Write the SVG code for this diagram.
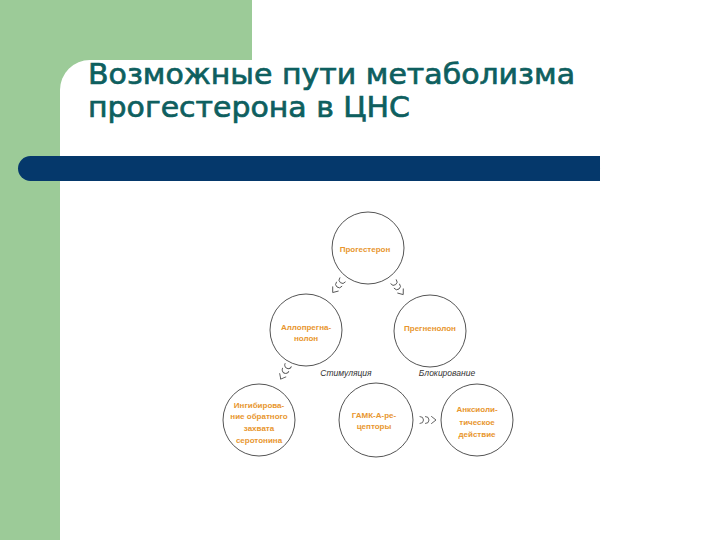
<svg xmlns="http://www.w3.org/2000/svg" width="720" height="540" viewBox="0 0 720 540">
<defs>
<style>
.node circle{fill:#ffffff;stroke:#555555;stroke-width:1}
.nt{font-family:"Liberation Sans",Arial,sans-serif;font-size:8px;font-weight:bold;fill:#E8962E;text-anchor:middle}
.lbl{font-family:"Liberation Sans",Arial,sans-serif;font-size:8.5px;font-style:italic;fill:#333333;text-anchor:middle}
.arr{fill:none;stroke:#555555;stroke-width:0.9;stroke-linecap:round;stroke-linejoin:round}
.title{font-family:"Comic Sans MS","DejaVu Sans",sans-serif;font-size:29px;fill:#0E5F5F;stroke:#0E5F5F;stroke-width:0.7}
</style>
<g id="flow">
<path d="M-9,-3.5 A3.5,3.5 0 1 1 -9,3.5 M-3.5,-3.5 A3.5,3.5 0 1 1 -3.5,3.5 M2.5,-3.5 L7,0 L2.5,3.5"/>
</g>
</defs>
<rect width="720" height="540" fill="#ffffff"/>
<g id="background">
<rect x="0" y="0" width="252" height="100" fill="#9CCB98"/>
<rect x="0" y="0" width="60" height="540" fill="#9CCB98"/>
<rect x="60" y="60" width="700" height="520" rx="30" ry="30" fill="#ffffff"/>
<rect x="18" y="156" width="582" height="25" rx="12.5" ry="12.5" fill="#05386B"/>
<rect x="560" y="156" width="40" height="25" fill="#05386B"/>
</g>
<g id="title">
<text class="title" x="88" y="84" textLength="487" lengthAdjust="spacingAndGlyphs">Возможные пути метаболизма</text>
<text class="title" x="88" y="117" textLength="322" lengthAdjust="spacingAndGlyphs">прогестерона в ЦНС</text>
</g>
<g id="connectors">
<use href="#flow" class="arr" transform="translate(337,287) rotate(128)"/>
<use href="#flow" class="arr" transform="translate(399,289) rotate(53)"/>
<use href="#flow" class="arr" transform="translate(284,373) rotate(118)"/>
<use href="#flow" class="arr" transform="translate(429,420)"/>
<text class="lbl" x="346" y="376">Стимуляция</text>
<text class="lbl" x="447" y="376">Блокирование</text>
</g>
<g id="progesterone" class="node">
<circle cx="368" cy="248" r="36"/>
<text class="nt" x="365" y="252">Прогестерон</text>
</g>
<g id="allopregnanolone" class="node">
<circle cx="306" cy="330" r="36"/>
<text class="nt" x="306" y="330">Аллопрегна-</text>
<text class="nt" x="306" y="341">нолон</text>
</g>
<g id="pregnenolone" class="node">
<circle cx="430" cy="331" r="36"/>
<text class="nt" x="430" y="331">Прегненолон</text>
</g>
<g id="inhibition" class="node">
<circle cx="259" cy="420" r="36"/>
<text class="nt" x="259" y="408">Ингибирова-</text>
<text class="nt" x="259" y="419">ние обратного</text>
<text class="nt" x="259" y="431">захвата</text>
<text class="nt" x="259" y="443">серотонина</text>
</g>
<g id="gaba" class="node">
<circle cx="376" cy="420" r="37"/>
<text class="nt" x="374" y="418">ГАМК-А-ре-</text>
<text class="nt" x="374" y="429">цепторы</text>
</g>
<g id="anxiolytic" class="node">
<circle cx="477" cy="420" r="36"/>
<text class="nt" x="477" y="412">Анксиоли-</text>
<text class="nt" x="477" y="425">тическое</text>
<text class="nt" x="477" y="437">действие</text>
</g>
</svg>
